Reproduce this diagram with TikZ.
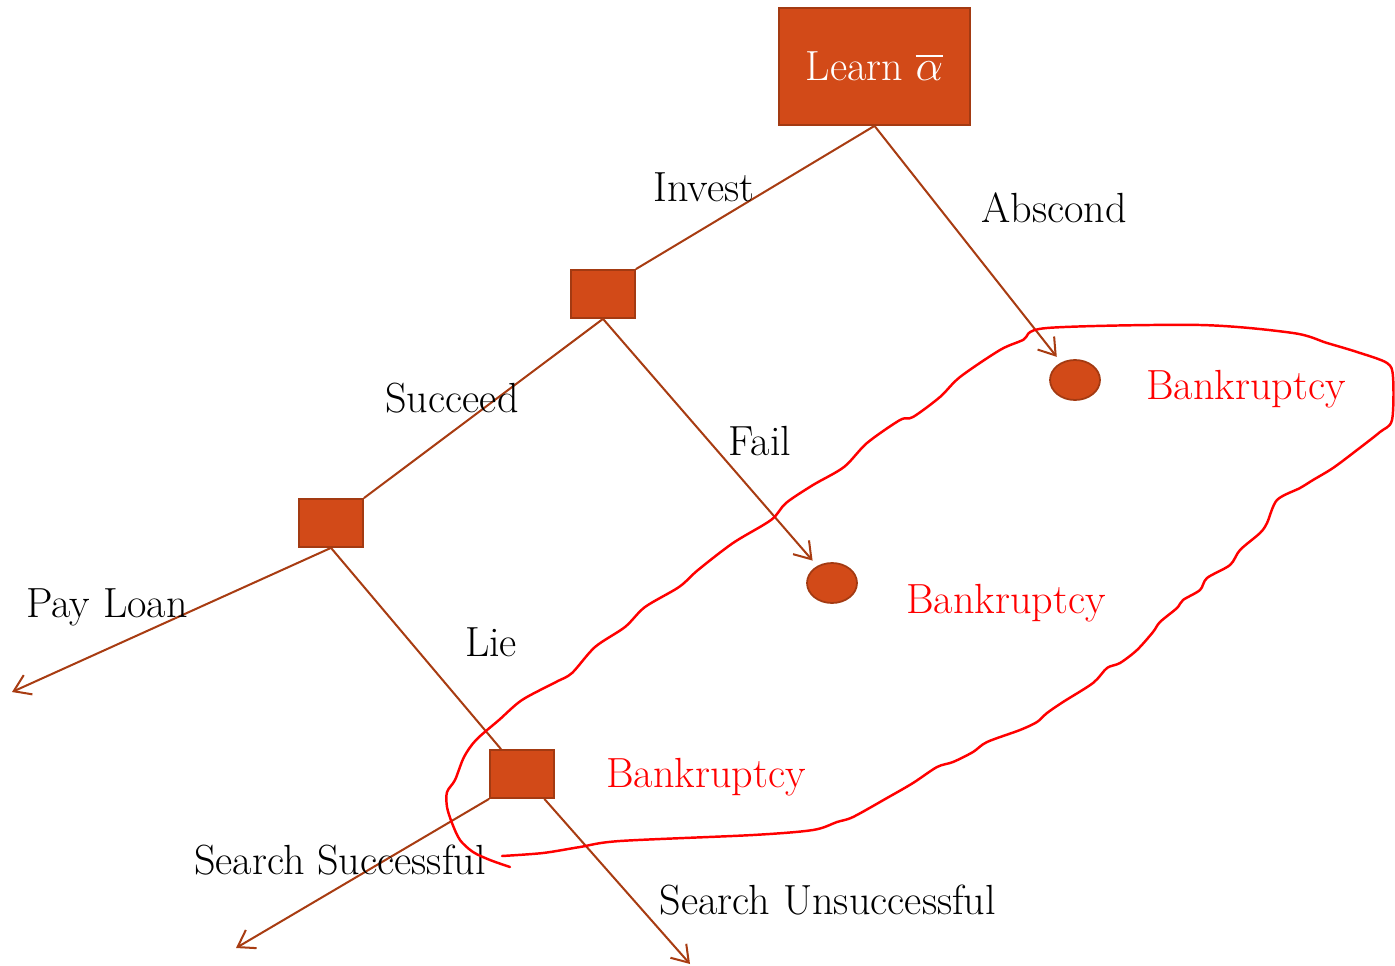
\documentclass[tikz,border=0pt]{standalone}
\usepackage{amssymb}
\usepackage{amsmath}
\usetikzlibrary{arrows.meta,shapes.geometric}

\definecolor{boxfill}{HTML}{D24A18}
\definecolor{boxedge}{HTML}{A33A12}
\definecolor{branch}{HTML}{A83C12}

\tikzset{
  decision/.style={rectangle, draw=boxedge, fill=boxfill, line width=1pt,
    minimum width=1.28cm, minimum height=0.96cm, inner sep=0pt},
  outcome/.style={ellipse, draw=boxedge, fill=boxfill, line width=1pt,
    minimum width=1cm, minimum height=0.8cm, inner sep=0pt},
  move/.style={font=\fontsize{24}{28}\selectfont, inner sep=0pt, anchor=base},
  bust/.style={move, text=red},
  limb/.style={draw=branch, line width=1.15pt},
}

\begin{document}
\begin{tikzpicture} [x=0.02cm, y=-0.02cm, >={Straight Barb[length=9pt,width=12pt]}]

\useasboundingbox (0,0) rectangle (1395,966);

\node [decision, minimum width=3.82cm, minimum height=2.34cm, text=white,
  font=\fontsize{24}{28}\selectfont] (learn) at (874.5,66.5) {Learn $\overline{\alpha}$};
\node [decision] (invest) at (603,294) {};
\node [decision] (succeed) at (331,523) {};
\node [decision] (lie) at (522,774) {};
\node [outcome] (bk1) at (1075,380) {};
\node [outcome] (bk2) at (832,583) {};

\coordinate (payend) at (12,692);
\coordinate (ssend) at (236,948);
\coordinate (suend) at (690,964);

\draw [limb] (learn.south) -- (invest.north east);
\draw [limb, ->, shorten >=4pt] (learn.south) -- (bk1);
\draw [limb] (invest.south) -- (succeed.north east);
\draw [limb, ->, shorten >=4pt] (invest.south) -- (bk2);
\draw [limb, ->] (succeed.south) -- (payend);
\draw [limb] (succeed.south) -- (lie);
\draw [limb, ->] (lie.south west) -- (ssend);
\draw [limb, ->] ([xshift=-6pt]lie.south east) -- (suend);

\node [move] (linvest) at (704,201) {Invest};
\node [move] (labscond) at (1054,222) {Abscond};
\node [move] (lsucceed) at (452,412) {Succeed};
\node [move] (lfail) at (760,455) {Fail};
\node [move] (lpay) at (107,617) {Pay Loan};
\node [move] (llie) at (491,656) {Lie};
\node [move] (lss) at (340,874) {Search Successful};
\node [move] (lsu) at (828,914) {Search Unsuccessful};

\node [bust] (b1) at (1246,399) {Bankruptcy};
\node [bust] (b2) at (1006,613) {Bankruptcy};
\node [bust] (b3) at (706,787) {Bankruptcy};

% hand drawn loop
\draw [red, line width=1.4pt, line cap=round, line join=round]
  plot [smooth, tension=0.5] coordinates {
  (502,856) (543,853) (580,847) (620,841) (753,835) (813,830) (837,822)
  (853,817) (887,798) (913,783) (937,767) (953,762) (973,752) (987,742)
  (1020,730) (1037,722) (1047,713) (1063,702) (1093,683) (1107,668)
  (1120,663) (1137,650) (1153,632) (1160,622) (1177,608) (1183,600)
  (1200,590) (1207,578) (1230,565) (1240,550) (1260,533) (1267,523)
  (1277,500) (1300,488) (1313,480) (1333,468) (1357,450) (1380,432)
  (1392,420) (1393,377) (1387,363) (1357,352) (1327,343) (1293,333)
  (1200,325) (1047,328) (1023,340) (1000,350) (960,377) (940,397)
  (913,417) (900,420) (867,443) (844,467) (813,485) (786,503) (771,520)
  (733,543) (698,570) (679,587) (645,607) (625,627) (595,647) (572,673)
  (556,682) (522,700) (499,720) (476,740) (464,757) (455,780) (447,792)
  (447,807) (452,823) (460,840) (473,852) (490,860) (510,867)};

\end{tikzpicture}
\end{document}
